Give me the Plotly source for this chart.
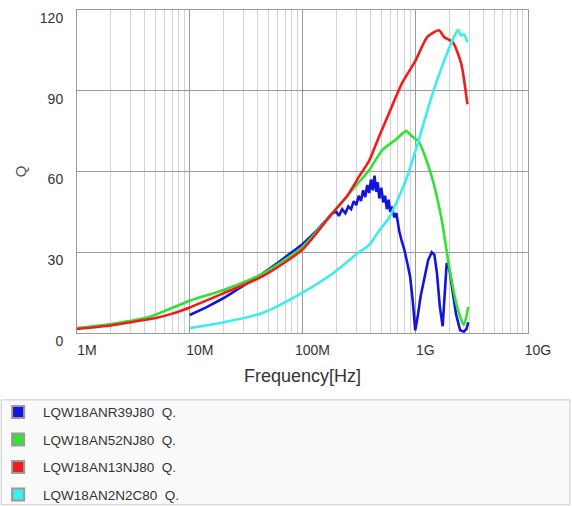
import plotly.graph_objects as go

# ---- data ----
names = ["LQW18ANR39J80", "LQW18AN52NJ80", "LQW18AN13NJ80", "LQW18AN2N2C80"]
colors = ["#1414dc", "#33e033", "#f01c1c", "#3aeeee"]

freq_blue = [10e6, 14e6, 20e6, 30e6, 44e6, 60e6, 80e6, 100e6, 130e6, 160e6, 184e6,
             200e6, 210e6, 225e6, 240e6, 255e6, 270e6, 285e6, 300e6, 315e6, 330e6,
             345e6, 360e6, 375e6, 390e6, 405e6, 420e6, 435e6, 450e6, 465e6, 480e6,
             500e6, 520e6, 540e6, 560e6, 580e6, 600e6, 620e6, 650e6, 680e6, 720e6,
             760e6, 800e6, 850e6, 900e6, 950e6, 1.0e9, 1.05e9, 1.12e9, 1.2e9, 1.3e9,
             1.4e9, 1.48e9, 1.56e9, 1.65e9, 1.75e9, 1.82e9, 1.9e9, 2.0e9, 2.15e9,
             2.3e9, 2.5e9, 2.7e9, 2.85e9, 2.95e9]
q_blue = [6.7, 9.5, 13, 17.5, 22, 26, 30, 33, 37.5, 41.5, 44.5,
          45, 43.5, 46, 44.5, 47, 46, 49, 47.5, 51, 49,
          53, 50.5, 55, 52, 57, 53, 58.5, 52.5, 56, 50,
          54, 48.5, 51, 46, 49.5, 45, 47, 43, 44.5, 38,
          34, 31, 26, 21, 12, 1, 6, 14, 20, 27,
          30, 29, 22, 10, 2.5, 16, 26, 24, 15,
          7, 1, 0.5, 1.5, 4]

freq_green = [1e6, 2e6, 4.4e6, 10e6, 20e6, 44e6, 100e6, 184e6, 316e6, 390e6, 512e6,
              678e6, 830e6, 940e6, 1.08e9, 1.38e9, 1.7e9, 2.0e9, 2.35e9, 2.7e9, 2.95e9]
q_green = [1.8, 3.3, 6, 12, 16, 22, 32, 44.5, 56, 60.5, 68,
           72, 75, 73, 71, 59, 43, 24.5, 9.7, 3, 9.7]

freq_red = [1e6, 2e6, 3e6, 5e6, 7e6, 10e6, 20e6, 44e6, 100e6, 184e6, 250e6, 316e6,
            390e6, 478e6, 590e6, 767e6, 1.0e9, 1.28e9, 1.62e9, 1.8e9, 2.16e9, 2.56e9, 2.9e9]
q_red = [1.5, 2.8, 4, 5.6, 7.2, 9.5, 14.8, 21, 31, 44.5, 51, 58,
         64, 73, 82, 93, 101, 110, 112.5, 110, 108, 100, 85]

freq_cyan = [10e6, 20e6, 44e6, 100e6, 184e6, 316e6, 390e6, 478e6, 590e6, 830e6,
             1.08e9, 1.4e9, 1.8e9, 2.15e9, 2.4e9, 2.55e9, 2.7e9, 2.9e9]
q_cyan = [1.8, 4, 7.4, 15, 22, 30, 32.7, 38, 43, 57,
          72, 88, 101, 109, 112.6, 110.5, 111, 108]

tick_vals = [1e6, 1e7, 1e8, 1e9, 1e10]
tick_text = ["1M", "10M", "100M", "1G", "10G"]
y_ticks = [0, 30, 60, 90, 120]

series = [(freq_blue, q_blue, "linear"), (freq_green, q_green, "spline"),
          (freq_red, q_red, "spline"), (freq_cyan, q_cyan, "spline")]

fig = go.Figure()
for i, (fx, fy, shape) in enumerate(series):
    fig.add_trace(go.Scatter(x=fx, y=fy, mode="lines", showlegend=False,
                             line=dict(color=colors[i], width=2.6, shape=shape, smoothing=0.6)))
# legend swatches (squares like the original)
for i, n in enumerate(names):
    fig.add_trace(go.Scatter(x=[None], y=[None], mode="markers", name=n + "\u00a0\u00a0Q.",
                             legendgroup=str(i),
                             marker=dict(symbol="square", size=15, color=colors[i],
                                         line=dict(color="#9a9a9a", width=1))))

font = "Liberation Sans, Arial, sans-serif"
fig.update_layout(
    width=572, height=506,
    margin=dict(l=77, r=44, t=10, b=173, autoexpand=False),
    paper_bgcolor="white", plot_bgcolor="white",
    font=dict(family=font, color="#333333", size=14),
    xaxis=dict(type="log", range=[6, 10], tickvals=tick_vals, ticktext=tick_text,
               showgrid=True, gridcolor="#9a9a9a", gridwidth=1,
               showline=True, linecolor="#9a9a9a", mirror=True, ticks="",
               ticklabelshift=10, ticklabelstandoff=4, automargin=False,
               minor=dict(dtick="D1", showgrid=True, gridcolor="#d2d2d2", gridwidth=1),
               title=dict(text="Frequency[Hz]", font=dict(size=18), standoff=12)),
    yaxis=dict(range=[0, 120], tickvals=y_ticks, showgrid=True, gridcolor="#9a9a9a",
               showline=True, linecolor="#9a9a9a", mirror=True, ticks="",
               zeroline=False, ticklabelshift=8, ticklabelstandoff=10, automargin=False),
    annotations=[dict(text="Q", xref="paper", yref="paper", x=-0.125, y=0.50,
                      xanchor="center", yanchor="middle",
                      showarrow=False, textangle=-90, font=dict(size=15, color="#555555"))],
    legend=dict(xref="paper", yref="paper", x=-0.186, y=-0.197,
                xanchor="left", yanchor="top", bgcolor="rgba(0,0,0,0)",
                font=dict(size=13.5, color="#333333"), traceorder="grouped",
                tracegroupgap=7, itemsizing="constant", itemwidth=40),
    shapes=[dict(type="rect", xref="paper", yref="paper",
                 x0=-0.168, x1=1.093, y0=-0.532, y1=-0.207,
                 fillcolor="#fafafa", line=dict(color="#c8c8c8", width=1), layer="below")],
)

fig.write_html("out.html", config={"displayModeBar": False},
               post_script="document.body.style.margin='0';")
